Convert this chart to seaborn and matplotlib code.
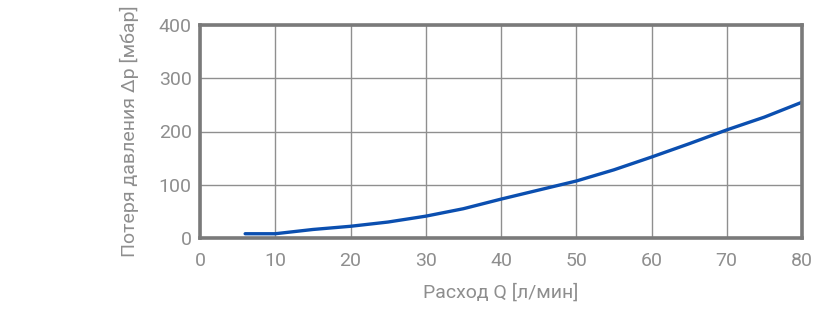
import matplotlib
matplotlib.use("Agg")
import matplotlib.pyplot as plt
import seaborn as sns
import pandas as pd

flow = [6, 10, 15, 20, 25, 30, 35, 40, 45, 50, 55, 60, 65, 70, 75, 80]
dp = [8, 8, 16, 22, 30, 41, 55, 73, 90, 107, 128, 152, 177, 203, 227, 255]
x_ticks = [0, 10, 20, 30, 40, 50, 60, 70, 80]
y_ticks = [0, 100, 200, 300, 400]

sns.set_theme(style="white")
plt.rcParams['font.family'] = ['Roboto', 'DejaVu Sans']

df = pd.DataFrame({"Q": flow, "dp": dp})
fig = plt.figure(figsize=(8.39, 3.36), dpi=100)
ax = fig.add_axes([200/839, 1-238/336, 602/839, 213/336])
sns.lineplot(data=df, x="Q", y="dp", ax=ax, color="#0b4fb0", linewidth=2.4)
ax.set_xlim(0, 80)
ax.set_ylim(0, 400)
ax.set_xticks(x_ticks)
ax.set_yticks(y_ticks)
ax.grid(True, color="#8f8f8f", linewidth=1.0)
for s in ax.spines.values():
    s.set_color("#7a7a7a")
    s.set_linewidth(2.6)
ax.tick_params(axis="x", length=0, labelsize=14, labelcolor="#8e8e8e", pad=10)
ax.tick_params(axis="y", length=0, labelsize=14, labelcolor="#8e8e8e", pad=6)
ax.set_xlabel("Расход Q [л/мин]", fontsize=14, color="#8e8e8e", labelpad=10)
ax.set_ylabel("Потеря давления Δp [мбар]", fontsize=14, color="#8e8e8e", labelpad=14)
ax.set_axisbelow(True)
fig.savefig("out.png", dpi=100)
